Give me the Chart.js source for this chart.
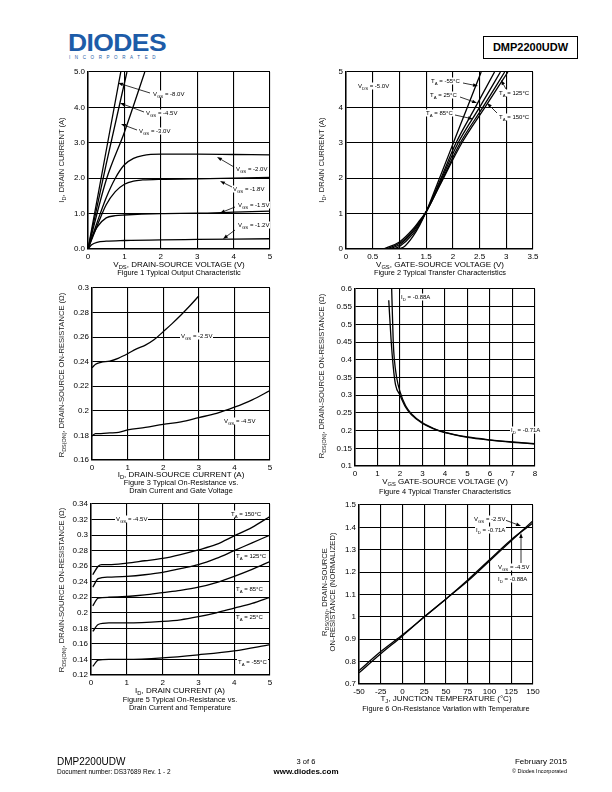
<!DOCTYPE html>
<html>
<head>
<meta charset="utf-8">
<title>DMP2200UDW - Typical Characteristics</title>
<script src="https://cdn.jsdelivr.net/npm/chart.js@4.4.1/dist/chart.umd.min.js"></script>
<style>
  body { margin: 0; background: #fff; }
  #page { position: relative; width: 612px; height: 792px; overflow: hidden; font-family: "Liberation Sans", Arial, sans-serif; color: #000; }
  canvas { position: absolute; }
  svg { position: absolute; left: 0; top: 0; }
  .t { position: absolute; white-space: nowrap; line-height: 1; }
  .sb { font-size: 0.72em; position: relative; top: 0.35em; }
  .lbl { position: absolute; white-space: nowrap; font-size: 6px; line-height: 7px; background: #fff; padding: 0 1px; transform: translateY(-50%); }
  .ax { position: absolute; white-space: nowrap; font-size: 8px; line-height: 9px; transform: translate(-50%, -50%); }
  .cap { position: absolute; white-space: nowrap; font-size: 7.4px; line-height: 8.4px; text-align: center; transform: translate(-50%, -50%); }
  .ay { position: absolute; white-space: nowrap; font-size: 7.6px; line-height: 8.4px; text-align: center; color: #222; transform: translate(-50%, -50%) rotate(-90deg); }
</style>
</head>
<body>
<div id="page">

  <!-- intestazione -->
  <div class="t" style="left:68px;top:32px;font-size:23px;font-weight:bold;color:#1d5ca8;letter-spacing:-0.5px;transform:scaleX(1.15);transform-origin:left top;">DIODES</div>
  <div class="t" style="left:69px;top:56px;font-size:4.5px;color:#1d5ca8;letter-spacing:4.6px;">INCORPORATED</div>
  <div class="t" style="left:483px;top:36px;width:93px;height:21px;border:1px solid #000;font-size:11px;font-weight:bold;line-height:21px;text-align:center;">DMP2200UDW</div>

  <canvas id="fig1"></canvas>
  <canvas id="fig2"></canvas>
  <canvas id="fig3"></canvas>
  <canvas id="fig4"></canvas>
  <canvas id="fig5"></canvas>
  <canvas id="fig6"></canvas>
  <svg id="arrows" width="612" height="792"></svg>

  <!-- Figure 1 -->
  <div class="lbl" style="left:152px;top:94px">V<span class="sb">GS</span> = -8.0V</div>
  <div class="lbl" style="left:145px;top:113px">V<span class="sb">GS</span> = -4.5V</div>
  <div class="lbl" style="left:138px;top:131px">V<span class="sb">GS</span> = -3.0V</div>
  <div class="lbl" style="left:235px;top:169px">V<span class="sb">GS</span> = -2.0V</div>
  <div class="lbl" style="left:232px;top:189px">V<span class="sb">GS</span> = -1.8V</div>
  <div class="lbl" style="left:237px;top:205px">V<span class="sb">GS</span> = -1.5V</div>
  <div class="lbl" style="left:237px;top:225px">V<span class="sb">GS</span> = -1.2V</div>
  <div class="ay" style="left:62px;top:160px">I<span class="sb">D</span>, DRAIN CURRENT (A)</div>
  <div class="ax" style="left:179px;top:265px">V<span class="sb">DS</span>, DRAIN-SOURCE VOLTAGE (V)</div>
  <div class="cap" style="left:179px;top:273px">Figure 1 Typical Output Characteristic</div>

  <!-- Figure 2 -->
  <div class="lbl" style="left:357px;top:86px">V<span class="sb">DS</span> = -5.0V</div>
  <div class="lbl" style="left:430px;top:81px">T<span class="sb">A</span> = -55°C</div>
  <div class="lbl" style="left:429px;top:95px">T<span class="sb">A</span> = 25°C</div>
  <div class="lbl" style="left:425px;top:113px">T<span class="sb">A</span> = 85°C</div>
  <div class="lbl" style="left:498px;top:93px">T<span class="sb">A</span> = 125°C</div>
  <div class="lbl" style="left:498px;top:117px">T<span class="sb">A</span> = 150°C</div>
  <div class="ay" style="left:322px;top:160px">I<span class="sb">D</span>, DRAIN CURRENT (A)</div>
  <div class="ax" style="left:440px;top:265px">V<span class="sb">GS</span>, GATE-SOURCE VOLTAGE (V)</div>
  <div class="cap" style="left:440px;top:273px">Figure 2 Typical Transfer Characteristics</div>

  <!-- Figure 3 -->
  <div class="lbl" style="left:180px;top:336px">V<span class="sb">GS</span> = -2.5V</div>
  <div class="lbl" style="left:223px;top:421px">V<span class="sb">GS</span> = -4.5V</div>
  <div class="ay" style="left:62px;top:375px">R<span class="sb">DS(ON)</span>, DRAIN-SOURCE ON-RESISTANCE (Ω)</div>
  <div class="ax" style="left:181px;top:475px">I<span class="sb">D</span>, DRAIN-SOURCE CURRENT (A)</div>
  <div class="cap" style="left:181px;top:487px">Figure 3 Typical On-Resistance vs.<br>Drain Current and Gate Voltage</div>

  <!-- Figure 4 -->
  <div class="lbl" style="left:400px;top:297px">I<span class="sb">D</span> = -0.88A</div>
  <div class="lbl" style="left:510px;top:430px">I<span class="sb">D</span> = -0.71A</div>
  <div class="ay" style="left:322px;top:376px">R<span class="sb">DS(ON)</span>, DRAIN-SOURCE ON-RESISTANCE (Ω)</div>
  <div class="ax" style="left:445px;top:482px">V<span class="sb">GS</span> GATE-SOURCE VOLTAGE (V)</div>
  <div class="cap" style="left:445px;top:492px">Figure 4 Typical Transfer Characteristics</div>

  <!-- Figure 5 -->
  <div class="lbl" style="left:115px;top:519px">V<span class="sb">GS</span> = -4.5V</div>
  <div class="lbl" style="left:230px;top:514px">T<span class="sb">A</span> = 150°C</div>
  <div class="lbl" style="left:235px;top:556px">T<span class="sb">A</span> = 125°C</div>
  <div class="lbl" style="left:235px;top:589px">T<span class="sb">A</span> = 85°C</div>
  <div class="lbl" style="left:235px;top:617px">T<span class="sb">A</span> = 25°C</div>
  <div class="lbl" style="left:237px;top:662px">T<span class="sb">A</span> = -55°C</div>
  <div class="ay" style="left:62px;top:590px">R<span class="sb">DS(ON)</span>, DRAIN-SOURCE ON-RESISTANCE (Ω)</div>
  <div class="ax" style="left:180px;top:691px">I<span class="sb">D</span>, DRAIN CURRENT (A)</div>
  <div class="cap" style="left:180px;top:704px">Figure 5 Typical On-Resistance vs.<br>Drain Current and Temperature</div>

  <!-- Figure 6 -->
  <div class="lbl" style="left:473px;top:519px">V<span class="sb">GS</span> = -2.5V</div>
  <div class="lbl" style="left:475px;top:530px">I<span class="sb">D</span> = -0.71A</div>
  <div class="lbl" style="left:497px;top:567px">V<span class="sb">GS</span> = -4.5V</div>
  <div class="lbl" style="left:497px;top:579px">I<span class="sb">D</span> = -0.88A</div>
  <div class="ay" style="left:329px;top:592px">R<span class="sb">DS(ON)</span>, DRAIN-SOURCE<br>ON-RESISTANCE (NORMALIZED)</div>
  <div class="ax" style="left:446px;top:699px">T<span class="sb">J</span>, JUNCTION TEMPERATURE (°C)</div>
  <div class="cap" style="left:446px;top:709px">Figure 6 On-Resistance Variation with Temperature</div>

  <!-- piè di pagina -->
  <div class="t" style="left:57px;top:757px;font-size:10px;">DMP2200UDW</div>
  <div class="t" style="left:57px;top:769px;font-size:6.5px;">Document number: DS37689 Rev. 1 - 2</div>
  <div class="t" style="left:306px;top:758px;font-size:7.5px;transform:translateX(-50%);">3 of 6</div>
  <div class="t" style="left:306px;top:768px;font-size:8px;font-weight:bold;transform:translateX(-50%);">www.diodes.com</div>
  <div class="t" style="right:45px;top:758px;font-size:8px;">February 2015</div>
  <div class="t" style="right:45px;top:769px;font-size:5.5px;">© Diodes Incorporated</div>
</div>

<script>
// ===============================
// Figure 1 - output characteristic (VDS, ID) per VGS
// ===============================
const fig1XTicks = [0, 1, 2, 3, 4, 5];
const fig1XLabels = ["0", "1", "2", "3", "4", "5"];
const fig1YTicks = [0, 1, 2, 3, 4, 5];
const fig1YLabels = ["0.0", "1.0", "2.0", "3.0", "4.0", "5.0"];
const fig1Vgs80 = [[0, 0], [0.45, 2.5], [0.9, 5]];
const fig1Vgs45 = [[0, 0], [0.5, 2.4], [1.07, 5]];
const fig1Vgs30 = [[0, 0], [0.5, 1.95], [1.0, 3.3], [1.56, 5]];
const fig1Vgs20 = [[0, 0], [0.25, 0.75], [0.5, 1.45], [0.75, 2.0], [1, 2.38], [1.25, 2.56], [1.5, 2.64], [2, 2.68], [3, 2.68], [4, 2.67], [5, 2.66]];
const fig1Vgs18 = [[0, 0], [0.25, 0.65], [0.5, 1.25], [0.75, 1.62], [1, 1.83], [1.25, 1.92], [1.5, 1.95], [2, 1.97], [3, 1.98], [4, 2.0], [5, 2.02]];
const fig1Vgs15 = [[0, 0], [0.1, 0.3], [0.25, 0.62], [0.5, 0.88], [0.75, 0.94], [1, 0.96], [2, 1.0], [3, 1.01], [4, 1.04], [5, 1.07]];
const fig1Vgs12 = [[0, 0], [0.1, 0.12], [0.25, 0.19], [0.5, 0.22], [1, 0.24], [2, 0.26], [3, 0.27], [4, 0.28], [5, 0.29]];

// ===============================
// Figure 2 - transfer characteristic (VGS, ID) per TA
// ===============================
const fig2XTicks = [0, 0.5, 1, 1.5, 2, 2.5, 3, 3.5];
const fig2XLabels = ["0", "0.5", "1", "1.5", "2", "2.5", "3", "3.5"];
const fig2YTicks = [0, 1, 2, 3, 4, 5];
const fig2YLabels = ["0", "1", "2", "3", "4", "5"];
const fig2Tm55 = [[1.0, 0], [1.1, 0.08], [1.25, 0.35], [1.375, 0.66], [1.5, 1.05], [1.75, 2.0], [2.01, 3.0], [2.27, 4.0], [2.53, 5]];
const fig2T25 = [[0.88, 0], [1.0, 0.07], [1.25, 0.42], [1.375, 0.7], [1.5, 1.05], [1.75, 1.9], [2.06, 3.0], [2.42, 4.0], [2.78, 5]];
const fig2T85 = [[0.8, 0], [1.0, 0.12], [1.25, 0.48], [1.375, 0.74], [1.5, 1.05], [1.75, 1.85], [2.1, 3.0], [2.5, 4.0], [2.89, 5]];
const fig2T125 = [[0.75, 0], [1.0, 0.16], [1.25, 0.52], [1.375, 0.77], [1.5, 1.05], [1.75, 1.8], [2.14, 3.0], [2.56, 4.0], [2.97, 5]];
const fig2T150 = [[0.7, 0], [1.0, 0.2], [1.25, 0.56], [1.375, 0.8], [1.5, 1.05], [1.75, 1.78], [2.17, 3.0], [2.6, 4.0], [3.03, 5]];

// ===============================
// Figure 3 - RDS(ON) vs ID per VGS
// ===============================
const fig3XTicks = [0, 1, 2, 3, 4, 5];
const fig3XLabels = ["0", "1", "2", "3", "4", "5"];
const fig3YTicks = [0.16, 0.18, 0.2, 0.22, 0.24, 0.26, 0.28, 0.3];
const fig3YLabels = ["0.16", "0.18", "0.2", "0.22", "0.24", "0.26", "0.28", "0.3"];
const fig3Vgs25 = [[0, 0.235], [0.1, 0.238], [0.25, 0.2395], [0.5, 0.2405], [0.75, 0.243], [1, 0.2465], [1.25, 0.2505], [1.5, 0.2535], [1.75, 0.258], [2, 0.2645], [2.25, 0.271], [2.5, 0.278], [2.75, 0.2855], [3, 0.2935]];
const fig3Vgs45 = [[0, 0.1795], [0.1, 0.1815], [0.25, 0.1815], [0.5, 0.182], [0.75, 0.1825], [1, 0.1845], [1.5, 0.1865], [2, 0.189], [2.5, 0.191], [3, 0.1945], [3.5, 0.198], [4, 0.203], [4.5, 0.209], [5, 0.2165]];

// ===============================
// Figure 4 - RDS(ON) vs VGS per ID
// ===============================
const fig4XTicks = [0, 1, 2, 3, 4, 5, 6, 7, 8];
const fig4XLabels = ["0", "1", "2", "3", "4", "5", "6", "7", "8"];
const fig4YTicks = [0.1, 0.15, 0.2, 0.25, 0.3, 0.35, 0.4, 0.45, 0.5, 0.55, 0.6];
const fig4YLabels = ["0.1", "0.15", "0.2", "0.25", "0.3", "0.35", "0.4", "0.45", "0.5", "0.55", "0.6"];
const fig4Id088 = [[1.63, 0.6], [1.7, 0.45], [1.75, 0.4], [1.85, 0.35], [2, 0.31], [2.25, 0.27], [2.5, 0.248], [3, 0.222], [3.5, 0.206], [4, 0.195], [5, 0.182], [6, 0.174], [7, 0.168], [8, 0.163]];
const fig4Id071 = [[1.5, 0.568], [1.6, 0.46], [1.7, 0.38], [1.8, 0.33], [2, 0.3], [2.25, 0.266], [2.5, 0.245], [3, 0.22], [3.5, 0.205], [4, 0.194], [5, 0.181], [6, 0.173], [7, 0.167], [8, 0.162]];

// ===============================
// Figure 5 - RDS(ON) vs ID per TA
// ===============================
const fig5XTicks = [0, 1, 2, 3, 4, 5];
const fig5XLabels = ["0", "1", "2", "3", "4", "5"];
const fig5YTicks = [0.12, 0.14, 0.16, 0.18, 0.2, 0.22, 0.24, 0.26, 0.28, 0.3, 0.32, 0.34];
const fig5YLabels = ["0.12", "0.14", "0.16", "0.18", "0.2", "0.22", "0.24", "0.26", "0.28", "0.3", "0.32", "0.34"];
const fig5T150 = [[0.05, 0.249], [0.2, 0.26], [0.3, 0.262], [0.5, 0.262], [1, 0.264], [1.5, 0.267], [2, 0.27], [2.5, 0.275], [3, 0.281], [3.5, 0.288], [4, 0.299], [4.5, 0.31], [5, 0.324]];
const fig5T125 = [[0.05, 0.233], [0.2, 0.244], [0.5, 0.246], [1, 0.247], [1.5, 0.249], [2, 0.252], [2.5, 0.257], [3, 0.262], [3.5, 0.27], [4, 0.28], [4.5, 0.29], [5, 0.3]];
const fig5T85 = [[0.05, 0.209], [0.2, 0.219], [0.5, 0.22], [1, 0.221], [1.5, 0.223], [2, 0.226], [2.5, 0.229], [3, 0.233], [3.5, 0.239], [4, 0.247], [4.5, 0.256], [5, 0.266]];
const fig5T25 = [[0.05, 0.176], [0.2, 0.185], [0.5, 0.187], [1, 0.187], [2, 0.189], [2.5, 0.191], [3, 0.195], [3.5, 0.2], [4, 0.206], [4.5, 0.212], [5, 0.22]];
const fig5Tm55 = [[0.05, 0.131], [0.2, 0.139], [0.5, 0.14], [1, 0.14], [2, 0.142], [3, 0.146], [4, 0.151], [5, 0.159]];

// ===============================
// Figure 6 - normalized RDS(ON) vs TJ
// ===============================
const fig6XTicks = [-50, -25, 0, 25, 50, 75, 100, 125, 150];
const fig6XLabels = ["-50", "-25", "0", "25", "50", "75", "100", "125", "150"];
const fig6YTicks = [0.7, 0.8, 0.9, 1.0, 1.1, 1.2, 1.3, 1.4, 1.5];
const fig6YLabels = ["0.7", "0.8", "0.9", "1", "1.1", "1.2", "1.3", "1.4", "1.5"];
const fig6Vgs25 = [[-50, 0.76], [-25, 0.845], [0, 0.92], [25, 1.0], [50, 1.08], [75, 1.16], [100, 1.25], [125, 1.34], [150, 1.43]];
const fig6Vgs45 = [[-50, 0.75], [-25, 0.835], [0, 0.915], [25, 1.0], [50, 1.08], [75, 1.165], [100, 1.255], [125, 1.345], [150, 1.42]];


// ===============================
// Creazione grafici con Chart.js
// ===============================
Chart.defaults.font.family = '"Liberation Sans", Arial, sans-serif';

const PAD_L = 30, PAD_T = 8, PAD_R = 10, PAD_B = 16;

function buildChart(id, area, xTicks, xLabels, yTicks, yLabels, series) {
    const [left, top, w, h] = area;
    const canvas = document.getElementById(id);
    canvas.width = w + PAD_L + PAD_R;
    canvas.height = h + PAD_T + PAD_B;
    canvas.style.left = (left - PAD_L) + "px";
    canvas.style.top = (top - PAD_T) + "px";

    const axis = (ticks, labels, fit) => ({
        type: "linear",
        min: ticks[0],
        max: ticks[ticks.length - 1],
        afterBuildTicks: s => { s.ticks = ticks.map(v => ({ value: v })); },
        afterFit: fit,
        grid: { color: "#000", lineWidth: 1.1, drawTicks: false },
        border: { color: "#000", width: 1.5 },
        ticks: {
            color: "#000", padding: 3, autoSkip: false, maxRotation: 0,
            font: { size: 8 },
            callback: (v, i) => labels[i]
        }
    });

    new Chart(canvas, {
        type: "line",
        data: {
            datasets: series.map(s => ({
                data: s,
                borderColor: "#000",
                borderWidth: 1.3,
                pointRadius: 0,
                fill: false,
                cubicInterpolationMode: "monotone"
            }))
        },
        options: {
            responsive: false,
            animation: false,
            events: [],
            layout: { padding: { top: PAD_T, right: PAD_R, left: 0, bottom: 0 } },
            plugins: { legend: { display: false }, tooltip: { enabled: false } },
            scales: {
                x: axis(xTicks, xLabels, s => { s.height = PAD_B; }),
                y: axis(yTicks, yLabels, s => { s.width = PAD_L; })
            }
        }
    });
}

buildChart("fig1", [88, 72, 182, 177], fig1XTicks, fig1XLabels, fig1YTicks, fig1YLabels,
    [fig1Vgs80, fig1Vgs45, fig1Vgs30, fig1Vgs20, fig1Vgs18, fig1Vgs15, fig1Vgs12]);
buildChart("fig2", [346, 72, 187, 177], fig2XTicks, fig2XLabels, fig2YTicks, fig2YLabels,
    [fig2Tm55, fig2T25, fig2T85, fig2T125, fig2T150]);
buildChart("fig3", [92, 288, 178, 172], fig3XTicks, fig3XLabels, fig3YTicks, fig3YLabels,
    [fig3Vgs25, fig3Vgs45]);
buildChart("fig4", [355, 289, 180, 177], fig4XTicks, fig4XLabels, fig4YTicks, fig4YLabels,
    [fig4Id088, fig4Id071]);
buildChart("fig5", [91, 504, 179, 171], fig5XTicks, fig5XLabels, fig5YTicks, fig5YLabels,
    [fig5T150, fig5T125, fig5T85, fig5T25, fig5Tm55]);
buildChart("fig6", [359, 505, 174, 179], fig6XTicks, fig6XLabels, fig6YTicks, fig6YLabels,
    [fig6Vgs25, fig6Vgs45]);


// ===============================
// Frecce delle etichette (coordinate pagina)
// ===============================
const arrowList = [
    [150, 93, 118, 83], [144, 112, 120, 103], [137, 130, 121, 124],
    [234, 167, 217, 157], [232, 187, 220, 181], [235, 207, 220, 213], [235, 230, 223, 239],
    [463, 83, 478, 86], [460, 97, 477, 103], [455, 115, 473, 119],
    [506, 89, 501, 80], [497, 113, 487, 103],
    [505, 520, 521, 526], [521, 563, 521, 533]
];

const svg = document.getElementById("arrows");
let svgHtml = "";
arrowList.forEach(([x1, y1, x2, y2]) => {
    const dx = x2 - x1, dy = y2 - y1;
    const len = Math.hypot(dx, dy);
    const ux = dx / len, uy = dy / len;
    const bx = x2 - ux * 5, by = y2 - uy * 5;
    svgHtml += `<line x1="${x1}" y1="${y1}" x2="${bx}" y2="${by}" stroke="#000" stroke-width="0.8"/>`;
    svgHtml += `<polygon points="${x2},${y2} ${bx - uy * 1.8},${by + ux * 1.8} ${bx + uy * 1.8},${by - ux * 1.8}" fill="#000"/>`;
});
svg.innerHTML = svgHtml;
</script>
</body>
</html>
